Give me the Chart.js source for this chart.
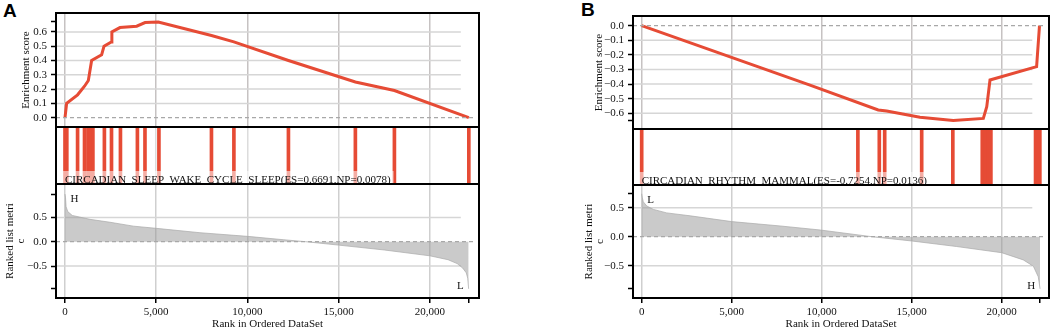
<!DOCTYPE html>
<html>
<head>
<meta charset="utf-8">
<script src="https://cdn.jsdelivr.net/npm/chart.js@4"></script>
<style>
  body { margin: 0; background: #fff; width: 1052px; height: 330px; position: relative; overflow: hidden; }
  canvas { position: absolute; }
  .tag { position: absolute; font: bold 19px 'Liberation Sans', Arial, sans-serif; color: #000; }
</style>
</head>
<body>
<div class="tag" style="left:3px;top:0px">A</div>
<div class="tag" style="left:581px;top:-1px">B</div>

<canvas id="esA" width="480" height="127" style="left:0;top:0"></canvas>
<canvas id="hitsA" width="480" height="57" style="left:0;top:127px"></canvas>
<canvas id="metA" width="480" height="146" style="left:0;top:184px"></canvas>

<canvas id="esB" width="474" height="129" style="left:577px;top:0"></canvas>
<canvas id="hitsB" width="474" height="56" style="left:577px;top:129px"></canvas>
<canvas id="metB" width="474" height="145" style="left:577px;top:185px"></canvas>

<script>
// ---- data ----
const geneCount = 22140;
const xTickValues = [0, 5000, 10000, 15000, 20000, geneCount];

// panel A
const esRankA = [0, 90, 690, 1070, 1280, 1460, 2010, 2140, 2540, 2570, 3015, 3930, 4390, 5115, 8030, 9260, 12250, 15920, 18060, 22140];
const esA     = [0, 0.10, 0.16, 0.22, 0.26, 0.40, 0.44, 0.50, 0.53, 0.60, 0.63, 0.64, 0.665, 0.669, 0.575, 0.53, 0.40, 0.25, 0.19, 0];
const esTicksA = [0, 0.1, 0.2, 0.3, 0.4, 0.5, 0.6, 0.6691];
const hitsA = [0, 100, 690, 1070, 1260, 1400, 1530, 2160, 2550, 3040, 3970, 4385, 5150, 8030, 9260, 12250, 15920, 18060, 22140];
const metricRankA = [0, 30, 60, 150, 400, 1370, 2470, 3750, 5000, 7400, 10000, 12000, 13200, 15000, 17500, 20000, 21000, 21500, 21800, 22000, 22080, 22130];
const metricA     = [0.98, 0.90, 0.72, 0.62, 0.54, 0.46, 0.40, 0.32, 0.275, 0.185, 0.11, 0.04, 0, -0.07, -0.17, -0.29, -0.37, -0.45, -0.54, -0.64, -0.75, -0.97];
const metricTicksA = [-0.97, -0.5, 0, 0.5, 0.98];
const labelA = 'CIRCADIAN_SLEEP_WAKE_CYCLE_SLEEP(ES=0.6691,NP=0.0078)';

// panel B
const esRankB = [0, 9350, 13140, 13610, 15460, 17310, 18980, 19170, 19350, 21940, 22100];
const esB     = [0, -0.407, -0.577, -0.584, -0.627, -0.65, -0.635, -0.555, -0.372, -0.281, 0];
const esTicksB = [0, -0.1, -0.2, -0.3, -0.4, -0.5, -0.6, -0.65];
const hitsB = [0, 12010, 13200, 13500, 15555, 17285, 18920, 19080, 19240, 19400, 21880, 22000, 22120];
const metricRankB = [0, 30, 90, 280, 650, 1390, 2690, 5000, 7690, 9920, 12780, 15000, 17500, 20000, 21200, 21760, 22030, 22110, 22130];
const metricB     = [0.74, 0.68, 0.60, 0.53, 0.47, 0.41, 0.36, 0.26, 0.185, 0.115, 0, -0.074, -0.17, -0.276, -0.40, -0.51, -0.69, -0.85, -0.90];
const metricTicksB = [-0.90, -0.5, 0, 0.5, 0.74];
const labelB = 'CIRCADIAN_RHYTHM_MAMMAL(ES=-0.7254,NP=0.0136)';

// ---- styling ----
const RED = '#E64B35';
const serif = "'Liberation Serif', 'Times New Roman', serif";
Chart.defaults.font.family = serif;
Chart.defaults.font.size = 11;
Chart.defaults.color = '#111';

function fmt(v) {
    return (v < -1e-9 ? '\u2212' : '') + Math.abs(v).toFixed(1);
}
function withComma(v) {
    return String(v).replace(/\B(?=(\d{3})+(?!\d))/g, ',');
}

// black box round each plot area
const frame = {
    id: 'frame',
    afterDraw(c) {
        const a = c.chartArea, ctx = c.ctx;
        ctx.save();
        ctx.strokeStyle = '#000';
        ctx.lineWidth = 2;
        ctx.strokeRect(a.left, a.top, a.right - a.left, a.bottom - a.top);
        ctx.restore();
    }
};

// horizontal grid lines that stop short of the right edge + dashed zero line
function guides(yLines, gridEnd) {
    return {
        id: 'guides',
        beforeDatasetsDraw(c) {
            const { ctx, chartArea: a, scales: { x, y } } = c;
            const xe = x.getPixelForValue(gridEnd);
            ctx.save();
            ctx.strokeStyle = '#d6d6d6';
            ctx.lineWidth = 1.5;
            yLines.forEach(v => {
                const py = y.getPixelForValue(v);
                ctx.beginPath(); ctx.moveTo(a.left, py); ctx.lineTo(xe, py); ctx.stroke();
            });
            ctx.restore();
        },
        afterDatasetsDraw(c) {
            const { ctx, chartArea: a, scales: { y } } = c;
            const py = y.getPixelForValue(0);
            ctx.save();
            ctx.strokeStyle = '#a8a8a8';
            ctx.lineWidth = 1.2;
            ctx.setLineDash([4, 3]);
            ctx.beginPath(); ctx.moveTo(a.left, py); ctx.lineTo(a.right - 4, py); ctx.stroke();
            ctx.restore();
        }
    };
}

function setLabel(text) {
    return {
        id: 'setLabel',
        afterDatasetsDraw(c) {
            const { ctx, chartArea: a, scales: { x } } = c;
            const x0 = x.getPixelForValue(0);
            ctx.save();
            ctx.font = '11px ' + serif;
            const w = ctx.measureText(text).width;
            ctx.fillStyle = 'rgba(255,255,255,0.55)';
            ctx.fillRect(x0 - 3, a.bottom - 13, w + 6, 13);
            ctx.fillStyle = '#111';
            ctx.textBaseline = 'alphabetic';
            ctx.fillText(text, x0, a.bottom - 1);
            ctx.restore();
        }
    };
}

function endLabels(top, bottom) {
    return {
        id: 'endLabels',
        afterDatasetsDraw(c) {
            const { ctx, chartArea: a, scales: { x } } = c;
            ctx.save();
            ctx.font = '11px ' + serif;
            ctx.fillStyle = '#111';
            ctx.textBaseline = 'middle';
            ctx.textAlign = 'left';
            ctx.fillText(top, x.getPixelForValue(0) + 5.5, a.top + 15.5);
            ctx.textAlign = 'right';
            ctx.fillText(bottom, x.getPixelForValue(geneCount) - 5, a.bottom - 11.5);
            ctx.restore();
        }
    };
}

function xScale(p, gridColor, shown) {
    const s = {
        type: 'linear', min: p.xMin, max: p.xMax, offset: false,
        afterBuildTicks: sc => { sc.ticks = xTickValues.map(v => ({ value: v })); },
        border: { display: false },
        grid: {
            offset: false, lineWidth: 1.5,
            color: ctx => (ctx.tick && ctx.tick.value === geneCount) ? 'rgba(0,0,0,0)' : gridColor,
            drawTicks: shown, tickLength: 5, tickColor: '#000', tickWidth: 1.5
        }
    };
    if (shown) {
        s.ticks = { autoSkip: false, maxRotation: 0, padding: 3, callback: v => v === geneCount ? '' : withComma(v) };
        s.title = { display: true, text: 'Rank in Ordered DataSet', padding: { top: 0, bottom: 0 }, font: { size: 11, lineHeight: 1 } };
        s.afterFit = sc => { sc.height = 32; sc.paddingLeft = 0; sc.paddingRight = 0; };
    } else {
        s.ticks = { display: false };
        s.afterFit = sc => { sc.height = 0; sc.paddingLeft = 0; sc.paddingRight = 0; };
    }
    return s;
}

function yScale(min, max, ticks, skip, title, titlePad, lineH) {
    return {
        min: min, max: max,
        afterBuildTicks: sc => { sc.ticks = ticks.map(v => ({ value: v })); },
        afterFit: sc => { sc.width = 56; sc.paddingTop = 0; sc.paddingBottom = 0; },
        ticks: { padding: 4, autoSkip: false, callback: v => skip.includes(v) ? '' : fmt(v) },
        grid: { drawOnChartArea: false, tickLength: 5, tickColor: '#000', tickWidth: 1.5 },
        border: { display: false },
        title: { display: true, text: title, padding: { top: titlePad, bottom: 0 }, font: { size: 11, lineHeight: lineH } }
    };
}

function base(pad) {
    return {
        responsive: false, animation: false, events: [],
        layout: { padding: pad, autoPadding: false },
        plugins: { legend: { display: false }, tooltip: { enabled: false } }
    };
}

function buildPanel(p) {
    // running enrichment score
    new Chart(document.getElementById(p.ids[0]), {
        type: 'line',
        data: { datasets: [{
            data: p.esRank.map((r, i) => ({ x: r, y: p.es[i] })),
            borderColor: RED, borderWidth: 3, pointRadius: 0, tension: 0, fill: false
        }] },
        options: Object.assign(base({ top: p.padTop, right: p.padRight, left: 0, bottom: 0 }), {
            scales: {
                x: xScale(p, '#c6c2c2', false),
                y: yScale(p.esMin, p.esMax, p.esTicks, [p.esTicks[p.esTicks.length - 1]], 'Enrichment score', p.esTitlePad, 1.2)
            }
        }),
        plugins: [guides(p.esGrid, 21700), frame]
    });

    // hit positions
    new Chart(document.getElementById(p.ids[1]), {
        type: 'bar',
        data: { datasets: [{
            data: p.hits.map(r => ({ x: r, y: 1 })),
            backgroundColor: RED, barThickness: 3
        }] },
        options: Object.assign(base({ top: 0, right: p.padRight, left: 0, bottom: 0 }), {
            scales: {
                x: xScale(p, '#dcdcdc', false),
                y: {
                    min: 0, max: 1,
                    afterFit: sc => { sc.width = 56; sc.paddingTop = 0; sc.paddingBottom = 0; },
                    ticks: { display: false },
                    grid: { display: false },
                    border: { display: false }
                }
            }
        }),
        plugins: [setLabel(p.label), frame]
    });

    // ranked list metric
    new Chart(document.getElementById(p.ids[2]), {
        type: 'line',
        data: { datasets: [{
            data: p.metricRank.map((r, i) => ({ x: r, y: p.metric[i] })),
            borderColor: 'rgba(170,170,170,0.7)', borderWidth: 1,
            backgroundColor: 'rgba(150,150,150,0.5)', fill: 'origin',
            pointRadius: 0, tension: 0
        }] },
        options: Object.assign(base({ top: 0, right: p.padRight, left: 0, bottom: 0 }), {
            scales: {
                x: xScale(p, '#cfcfcf', true),
                y: yScale(p.metMin, p.metMax, p.metricTicks,
                    [p.metricTicks[0], p.metricTicks[p.metricTicks.length - 1]],
                    ['Ranked list metri', 'c'], p.metTitlePad, 1.05)
            }
        }),
        plugins: [guides([0.5, -0.5], 21700), endLabels(p.topTag, p.bottomTag), frame]
    });
}

buildPanel({
    ids: ['esA', 'hitsA', 'metA'],
    xMin: -493, xMax: 22698, padTop: 13, padRight: 1,
    esRank: esRankA, es: esA, esTicks: esTicksA, esMin: -0.065, esMax: 0.732,
    esGrid: [0.1, 0.2, 0.3, 0.4, 0.5, 0.6], esTitlePad: 20,
    hits: hitsA, label: labelA,
    metricRank: metricRankA, metric: metricA, metricTicks: metricTicksA,
    metMin: -1.158, metMax: 1.187, metTitlePad: 4,
    topTag: 'H', bottomTag: 'L'
});

buildPanel({
    ids: ['esB', 'hitsB', 'metB'],
    xMin: -483, xMax: 22628, padTop: 16, padRight: 2,
    esRank: esRankB, es: esB, esTicks: esTicksB, esMin: -0.7075, esMax: 0.066,
    esGrid: [-0.1, -0.2, -0.3, -0.4, -0.5, -0.6], esTitlePad: 16,
    hits: hitsB, label: labelB,
    metricRank: metricRankB, metric: metricB, metricTicks: metricTicksB,
    metMin: -1.057, metMax: 0.891, metTitlePad: 6,
    topTag: 'L', bottomTag: 'H'
});
</script>
</body>
</html>
